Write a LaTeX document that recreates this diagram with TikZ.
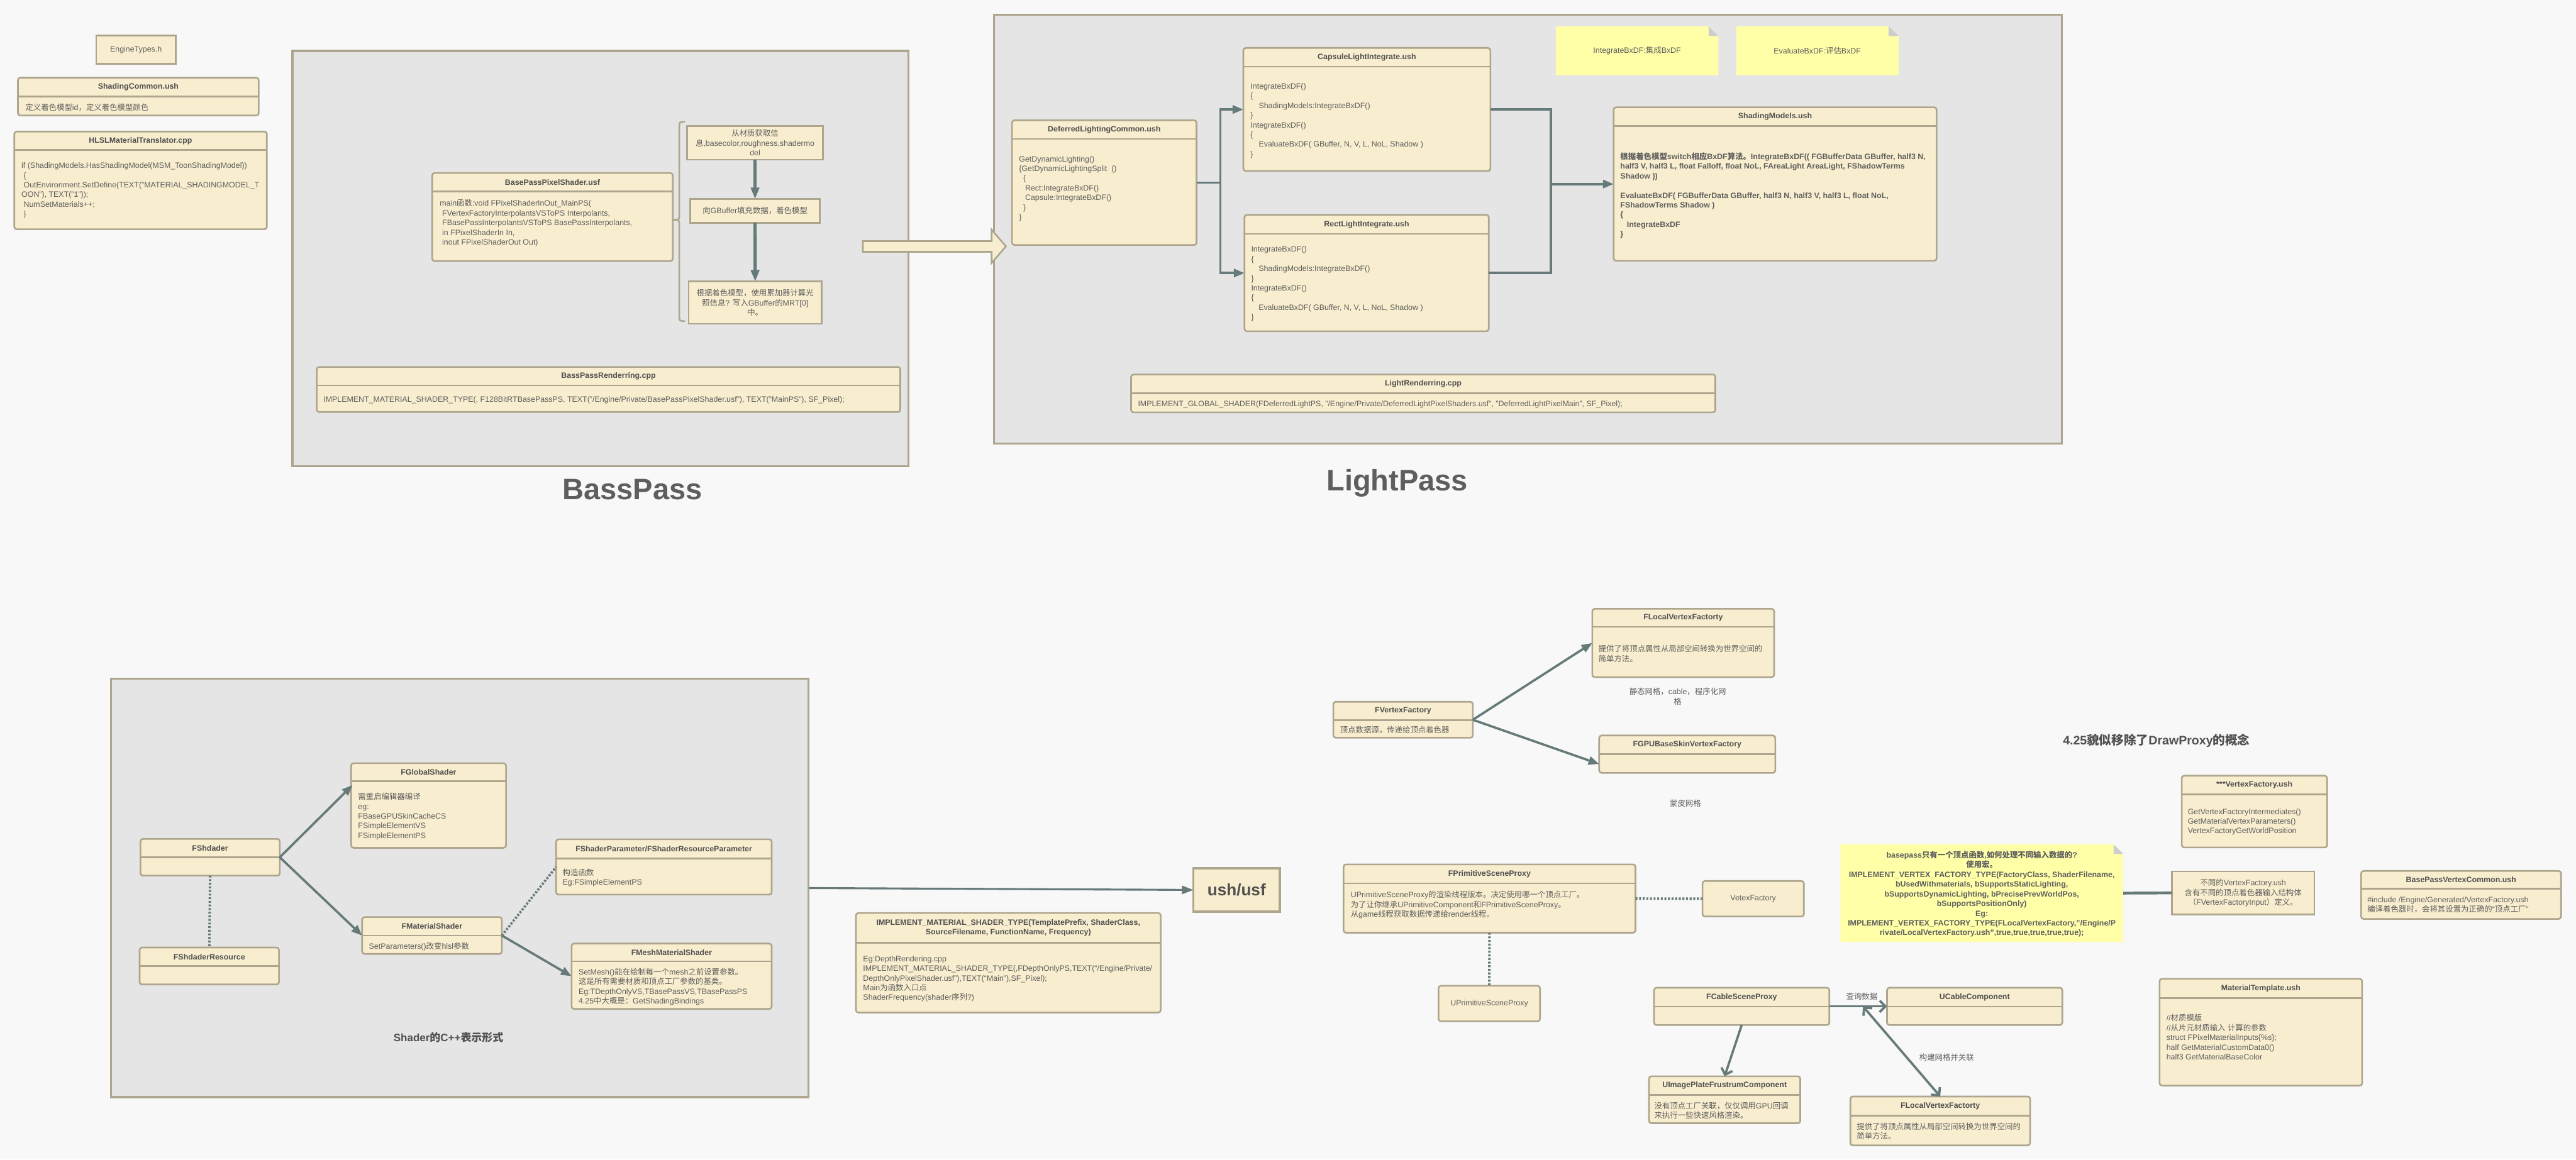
\documentclass[tikz,border=0pt]{standalone}
\usepackage{fontspec}
\setmainfont{Liberation Sans}
\newfontfamily\cjkfont{Noto Sans CJK SC}
\usetikzlibrary{arrows.meta}
% automatic switch to the CJK font for Chinese characters
\newcount\cjkc
\cjkc="2E80
\loop \XeTeXcharclass\cjkc=7 \ifnum\cjkc<"9FFF \advance\cjkc by 1 \repeat
\cjkc="FF00
\loop \XeTeXcharclass\cjkc=7 \ifnum\cjkc<"FFEF \advance\cjkc by 1 \repeat
\XeTeXinterchartoks 0 7 = {\cjkfont}
\XeTeXinterchartoks 4095 7 = {\cjkfont}
\XeTeXinterchartoks 7 0 = {\rmfamily}
\XeTeXinterchartoks 7 4095 = {\rmfamily}
\XeTeXinterchartokenstate=1

\definecolor{bgc}{HTML}{F8F8F8}
\definecolor{panelc}{HTML}{E5E5E5}
\definecolor{edgec}{HTML}{ADA58D}
\definecolor{boxc}{HTML}{F8EDCE}
\definecolor{txtc}{HTML}{5E5E5E}
\definecolor{ttlc}{HTML}{505050}
\definecolor{linec}{HTML}{677A7A}
\definecolor{notec}{HTML}{FFFFA8}
\definecolor{foldc}{HTML}{CDCDCD}
\newcommand\fsz{\fontsize{4.75}{5.9}\selectfont}

\tikzset{
 panel/.style={draw=edgec, fill=panelc, line width=1.2pt, inner sep=0, outer sep=0},
 umlbox/.style={draw=edgec, fill=boxc, line width=1pt, rounded corners=1.5pt, inner sep=0, outer sep=0},
 sqbox/.style={draw=edgec, fill=boxc, line width=1pt, inner sep=0, outer sep=0},
 divline/.style={draw=edgec, line width=1pt},
 ttl/.style={font=\fsz\bfseries, text=ttlc, inner sep=0, align=center},
 body/.style={font=\fsz, text=txtc, inner sep=0, align=left, anchor=north west},
 ctext/.style={font=\fsz, text=txtc, inner sep=0, align=center},
 conn/.style={draw=linec, line width=1.4pt},
 tri/.style={-{Triangle[length=6.5pt,width=5pt]}},
 barb/.style={-{Straight Barb[length=3.5pt,width=7pt]}},
 dotline/.style={draw=linec, line width=1.5pt, dash pattern=on 1.2pt off 1pt},
 bigtitle/.style={font=\fontsize{18}{20}\selectfont\bfseries, text=txtc, inner sep=0},
}

\newcommand\uml[7]{%
  \pgfmathsetmacro\umlW{#4-#2}\pgfmathsetmacro\umlH{#5-#3}%
  \node[umlbox, minimum width=\umlW pt, minimum height=\umlH pt, anchor=north west] (#1) at (#2,#3) {};%
  \draw[divline] (#2,#6) -- (#4,#6);%
  \node[ttl] (#1-t) at ({(#2+#4)/2},{(#3+#6)/2}) {#7};%
}

\begin{document}
\begin{tikzpicture}[x=1pt,y=-1pt]
\fill[bgc] (0,0) rectangle (1568,706);
\useasboundingbox (0,0) rectangle (1568,706);

% ---------- top-left ----------
\node[sqbox, minimum width=48.5pt, minimum height=17.2pt, anchor=north west] (engt) at (58.5,21.6) {};
\node[ctext] (engt-t) at (engt.center) {EngineTypes.h};

\uml{shc}{10.9}{47.3}{157.5}{70.3}{58.8}{ShadingCommon.ush}
\node[body] (shc-b) at (15.3,62.8) {定义着色模型id，定义着色模型颜色};

\uml{hlsl}{8.7}{80.1}{162.4}{139.6}{91.4}{HLSLMaterialTranslator.cpp}
\node[body] (hlsl-b) at (12.9,98.8) {if (ShadingModels.HasShadingModel(MSM\_ToonShadingModel))\\\hspace*{1.3pt}\{\\\hspace*{1.3pt}OutEnvironment.SetDefine(TEXT("MATERIAL\_SHADINGMODEL\_T\\OON"), TEXT("1"));\\\hspace*{1.3pt}NumSetMaterials++;\\\hspace*{1.3pt}\}};

% ---------- panels ----------
\node[panel, minimum width=375pt, minimum height=253pt, anchor=north west] (bp) at (178,31) {};
\node[bigtitle] (bp-l) at (385,298) {BassPass};
\node[panel, minimum width=650pt, minimum height=261pt, anchor=north west] (lp) at (605,9) {};
\node[bigtitle] (lp-l) at (850.5,294) {LightPass};

% ---------- BassPass ----------
\uml{bpps}{263.1}{105.3}{409.5}{159}{116.6}{BasePassPixelShader.usf}
\node[body] (bpps-b) at (267.5,121.3) {main函数:void FPixelShaderInOut\_MainPS(\\\hspace*{1.5pt}FVertexFactoryInterpolantsVSToPS Interpolants,\\\hspace*{1.5pt}FBasePassInterpolantsVSToPS BasePassInterpolants,\\\hspace*{1.5pt}in FPixelShaderIn In,\\\hspace*{1.5pt}inout FPixelShaderOut Out)};

\uml{bpr}{192.8}{223.4}{548}{250.9}{234.6}{BassPassRenderring.cpp}
\node[body] (bpr-b) at (196.7,241.1) {IMPLEMENT\_MATERIAL\_SHADER\_TYPE(, F128BitRTBasePassPS, TEXT("/Engine/Private/BasePassPixelShader.usf"), TEXT("MainPS"), SF\_Pixel);};

\draw[edgec, line width=1pt] (417,74.2) .. controls (413.5,74.2) .. (413.5,77.7) -- (413.5,130.3) .. controls (413.5,133.8) .. (409.8,133.8) .. controls (413.5,133.8) .. (413.5,137.3) -- (413.5,192) .. controls (413.5,195.5) .. (417,195.5);

\node[sqbox, minimum width=82.8pt, minimum height=20.5pt, anchor=north west] (st1) at (418.2,76.7) {};
\node[ctext] (st1-t) at (st1.center) {从材质获取信\\息,basecolor,roughness,shadermo\\del};
\node[sqbox, minimum width=78.8pt, minimum height=14.4pt, anchor=north west] (st2) at (420.2,121.2) {};
\node[ctext] (st2-t) at (st2.center) {向GBuffer填充数据，着色模型};
\node[sqbox, minimum width=80.9pt, minimum height=25.8pt, anchor=north west] (st3) at (419.2,171.4) {};
\node[ctext] (st3-t) at (st3.center) {根据着色模型，使用累加器计算光\\照信息? 写入GBuffer的MRT[0]\\中。};
\draw[conn, line width=2pt, -{Triangle[length=7pt,width=5pt]}] (st1.south) -- (st2.north);
\draw[conn, line width=2pt, -{Triangle[length=7pt,width=5pt]}] (st2.south) -- (st3.north);

% block arrow between passes
\draw[edgec, fill=boxc, line width=1pt] (525.2,146.8) -- (603.6,146.8) -- (603.6,139.9) -- (612.3,150) -- (603.6,160.1) -- (603.6,153.3) -- (525.2,153.3) -- cycle;

% ---------- LightPass ----------
\uml{dlc}{616}{73.2}{728.3}{149.2}{84.6}{DeferredLightingCommon.ush}
\node[body] (dlc-b) at (620.1,94.8) {GetDynamicLighting()\\\{GetDynamicLightingSplit\ \ ()\\\hspace*{2.6pt}\{\\\hspace*{3.7pt}Rect:IntegrateBxDF()\\\hspace*{3.7pt}Capsule:IntegrateBxDF()\\\hspace*{2.6pt}\}\\\}};

\uml{cap}{756.8}{29.2}{907.2}{104.1}{40.6}{CapsuleLightIntegrate.ush}
\node[body] (cap-b) at (761,50.5) {IntegrateBxDF()\\\{\\\hspace*{5pt}ShadingModels:IntegrateBxDF()\\\}\\IntegrateBxDF()\\\{\\\hspace*{5pt}EvaluateBxDF( GBuffer, N, V, L, NoL, Shadow )\\\}};

\uml{rli}{757.5}{130.8}{906.2}{201.7}{142.4}{RectLightIntegrate.ush}
\node[body] (rli-b) at (761.4,149.8) {IntegrateBxDF()\\\{\\\hspace*{4.5pt}ShadingModels:IntegrateBxDF()\\\}\\IntegrateBxDF()\\\{\\\hspace*{4.5pt}EvaluateBxDF( GBuffer, N, V, L, NoL, Shadow )\\\}};

\uml{shm}{982.2}{65.3}{1178.8}{158.8}{76.7}{ShadingModels.ush}
\node[body, font=\fsz\bfseries] (shm-b) at (986.1,92.7) {根据着色模型switch相应BxDF算法。IntegrateBxDF(( FGBufferData GBuffer, half3 N,\\half3 V, half3 L, float Falloff, float NoL, FAreaLight AreaLight, FShadowTerms\\Shadow ))\\[5.9pt]EvaluateBxDF( FGBufferData GBuffer, half3 N, half3 V, half3 L, float NoL,\\FShadowTerms Shadow )\\\{\\\hspace*{4pt}IntegrateBxDF\\\}};

\coordinate (busL) at (742.8,111.2);
\coordinate (busR) at (944,112.05);
\draw[conn, tri] (dlc.east) -- (busL) |- (cap.west);
\draw[conn, tri] (busL) |- (rli.west);
\draw[conn, tri] (cap.east) -| (busR) -- (shm.west);
\draw[conn] (rli.east) -| (busR);

% notes
\fill[notec] (947,16) -- (1040,16) -- (1046,22) -- (1046,45.8) -- (947,45.8) -- cycle;
\fill[foldc] (1040,16) -- (1046,22) -- (1040,22) -- cycle;
\node[ctext] (note1) at (996.5,31) {IntegrateBxDF:集成BxDF};
\fill[notec] (1056.9,16) -- (1149.6,16) -- (1155.6,22) -- (1155.6,45.8) -- (1056.9,45.8) -- cycle;
\fill[foldc] (1149.6,16) -- (1155.6,22) -- (1149.6,22) -- cycle;
\node[ctext] (note2) at (1106.2,31) {EvaluateBxDF:评估BxDF};

\uml{lr}{688.5}{228}{1044.1}{251.1}{239.5}{LightRenderring.cpp}
\node[body] (lr-b) at (692.5,244) {IMPLEMENT\_GLOBAL\_SHADER(FDeferredLightPS, "/Engine/Private/DeferredLightPixelShaders.usf", "DeferredLightPixelMain", SF\_Pixel);};

% ---------- Shader panel ----------
\node[panel, minimum width=424.7pt, minimum height=254.6pt, anchor=north west] (sp) at (67.5,413.4) {};
\uml{fsh}{85.5}{510.8}{170.3}{533.1}{522}{FShdader}
\uml{fshr}{85}{576.9}{169.8}{599.4}{588.1}{FShdaderResource}
\draw[dotline] (fsh.south) -- (fshr.north);
\uml{fgs}{213.7}{464.7}{308}{516.2}{475.6}{FGlobalShader}
\node[body] (fgs-b) at (217.8,482.6) {需重启编辑器编译\\eg:\\FBaseGPUSkinCacheCS\\FSimpleElementVS\\FSimpleElementPS};
\uml{fms}{220.4}{558.4}{305.5}{580.8}{569.6}{FMaterialShader}
\node[body] (fms-b) at (224.4,573.5) {SetParameters()改变hlsl参数};
\uml{fsp}{338.5}{511}{469.7}{544.7}{522.8}{FShaderParameter/FShaderResourceParameter}
\node[body] (fsp-b) at (342.3,528.8) {构造函数\\Eg:FSimpleElementPS};
\uml{fmm}{347.9}{574.5}{469.7}{614.3}{585.3}{FMeshMaterialShader}
\node[body] (fmm-b) at (352,589.3) {SetMesh()能在绘制每一个mesh之前设置参数。\\这是所有需要材质和顶点工厂参数的基类。\\Eg:TDepthOnlyVS,TBasePassVS,TBasePassPS\\4.25中大概是：GetShadingBindings};
\path (fgs.north west) ++(0.9,13.3) coordinate (fgsin);
\draw[conn, tri] (fsh.east) -- (fgsin);
\draw[conn, tri] (fsh.east) -- (fms.west);
\draw[dotline] (fms.east) -- (fsp.west);
\draw[conn, tri] (fms.east) -- (fmm.west);
\node[font=\fontsize{6.5}{8}\selectfont\bfseries, text=ttlc, inner sep=0] (splbl) at (273,631.8) {Shader的C++表示形式};

% ush/usf
\node[sqbox, line width=1.3pt, minimum width=52.6pt, minimum height=26.3pt, anchor=north west] (ush) at (726.4,528.7) {};
\node[font=\fontsize{10}{12}\selectfont\bfseries, text=ttlc, inner sep=0] (ush-t) at (ush.center) {ush/usf};
\draw[conn, line width=1.2pt, -{Triangle[length=7pt,width=5pt]}] (sp.east) -- (ush.west);

\uml{ims}{521}{555.9}{706.5}{616.5}{574}{IMPLEMENT\_MATERIAL\_SHADER\_TYPE(TemplatePrefix, ShaderClass,\\SourceFilename, FunctionName, Frequency)}
\node[body] (ims-b) at (525.2,581.8) {Eg:DepthRendering.cpp\\IMPLEMENT\_MATERIAL\_SHADER\_TYPE(,FDepthOnlyPS,TEXT(“/Engine/Private/\\DepthOnlyPixelShader.usf”),TEXT(“Main”),SF\_Pixel);\\Main为函数入口点\\ShaderFrequency(shader序列?)};

% ---------- vertex factory area ----------
\uml{fvf}{811.6}{427.3}{896.5}{449.2}{438.5}{FVertexFactory}
\node[body] (fvf-b) at (815.5,442) {顶点数据源，传递给顶点着色器};
\uml{flva}{969.2}{370.7}{1079.9}{412.3}{381.7}{FLocalVertexFactorty}
\node[body] (flva-b) at (972.8,392.6) {提供了将顶点属性从局部空间转换为世界空间的\\简单方法。};
\node[ctext] (lbl1) at (1021.2,424) {静态网格，cable，程序化网\\格};
\uml{fgpu}{973.4}{447.8}{1080.6}{470.6}{459.1}{FGPUBaseSkinVertexFactory}
\node[ctext] (lbl2) at (1025.9,489.1) {蒙皮网格};
\path (fgpu.south west) ++(0,-5.4) coordinate (fgpuin);
\draw[conn, tri] (fvf.east) -- (flva.west);
\draw[conn, tri] (fvf.east) -- (fgpuin);

\uml{fpsp}{817.8}{526.3}{995.5}{567.9}{537.8}{FPrimitiveSceneProxy}
\node[body] (fpsp-b) at (822,542.3) {UPrimitiveSceneProxy的渲染线程版本。决定使用哪一个顶点工厂。\\为了让你继承UPrimitiveComponent和FPrimitiveSceneProxy。\\从game线程获取数据传递给render线程。};
\node[umlbox, minimum width=61.7pt, minimum height=21.6pt, anchor=north west] (vtx) at (1036.3,536.4) {};
\node[ctext] (vtx-t) at (vtx.center) {VetexFactory};
\draw[dotline] (fpsp.east) -- (vtx.west);
\node[umlbox, minimum width=61.8pt, minimum height=21.6pt, anchor=north west] (upsp) at (875.6,600.2) {};
\node[ctext] (upsp-t) at (upsp.center) {UPrimitiveSceneProxy};
\draw[dotline] (fpsp.south) -- (upsp.north);

\uml{fcsp}{1006.8}{601.4}{1113.5}{624.1}{612.9}{FCableSceneProxy}
\uml{ucc}{1148.6}{601.4}{1255.3}{624.1}{612.9}{UCableComponent}
\draw[conn, barb] (fcsp.east) -- coordinate[pos=0.584] (qmid) (ucc.west);
\node[ctext] (lbl3) at (1133.3,606.6) {查询数据};
\uml{uip}{1003.7}{655.3}{1095.8}{683.9}{666.6}{UImagePlateFrustrumComponent}
\node[body] (uip-b) at (1006.8,670.9) {没有顶点工厂关联，仅仅调用GPU回调\\来执行一些快速风格渲染。};
\draw[conn, barb] (fcsp.south) -- (uip.north);
\uml{flvb}{1126.3}{667.6}{1235.7}{697.4}{679.2}{FLocalVertexFactorty}
\node[body] (flvb-b) at (1130,683.5) {提供了将顶点属性从局部空间转换为世界空间的\\简单方法。};
\draw[conn, {Straight Barb[length=3.5pt,width=7pt]}-{Straight Barb[length=3.5pt,width=7pt]}] (qmid) -- (flvb.north);
\node[ctext] (lbl4) at (1184.9,644) {构建网格并关联};

% ---------- right ----------
\node[font=\fontsize{7.5}{9}\selectfont\bfseries, text=ttlc, inner sep=0] (t425) at (1312.6,450.8) {4.25貌似移除了DrawProxy的概念};
\uml{vfu}{1328}{472.3}{1416.5}{516}{483.6}{***VertexFactory.ush}
\node[body] (vfu-b) at (1331.5,492.1) {GetVertexFactoryIntermediates()\\GetMaterialVertexParameters()\\VertexFactoryGetWorldPosition};

\fill[notec] (1120.2,514.1) -- (1286.6,514.1) -- (1292.4,519.9) -- (1292.4,573.5) -- (1120.2,573.5) -- cycle;
\fill[foldc] (1286.6,514.1) -- (1292.4,519.9) -- (1286.6,519.9) -- cycle;
\node[inner sep=0, outer sep=0, minimum width=172.2pt, minimum height=59.4pt, anchor=north west] (bpn) at (1120.2,514.1) {};
\node[ctext, font=\fsz\bfseries] (bpn-t) at (1206.3,544.4) {basepass只有一个顶点函数,如何处理不同输入数据的?\\使用宏。\\IMPLEMENT\_VERTEX\_FACTORY\_TYPE(FactoryClass, ShaderFilename,\\bUsedWithmaterials, bSupportsStaticLighting,\\bSupportsDynamicLighting, bPrecisePrevWorldPos,\\bSupportsPositionOnly)\\Eg:\\IMPLEMENT\_VERTEX\_FACTORY\_TYPE(FLocalVertexFactory,”/Engine/P\\rivate/LocalVertexFactory.ush”,true,true,true,true,true);};

\node[sqbox, minimum width=86.7pt, minimum height=26.1pt, anchor=north west] (dvf) at (1322,530.6) {};
\node[ctext] (dvf-t) at (dvf.center) {不同的VertexFactory.ush\\含有不同的顶点着色器输入结构体\\（FVertexFactoryInput）定义。};
\draw[conn, line width=1.7pt] (bpn.east) -- (dvf.west);

\uml{bpvc}{1437.2}{530.3}{1558.9}{559.5}{541.2}{BasePassVertexCommon.ush}
\node[body] (bpvc-b) at (1440.8,545.9) {\#include /Engine/Generated/VertexFactory.ush\\编译着色器时，会将其设置为正确的“顶点工厂”};

\uml{mtu}{1314.5}{596}{1437.8}{661}{607.6}{MaterialTemplate.ush}
\node[body] (mtu-b) at (1318.5,617.4) {//材质模版\\//从片元材质输入 计算的参数\\struct FPixelMaterialInputs\{\%s\};\\half GetMaterialCustomData0()\\half3 GetMaterialBaseColor};
\end{tikzpicture}
\end{document}
